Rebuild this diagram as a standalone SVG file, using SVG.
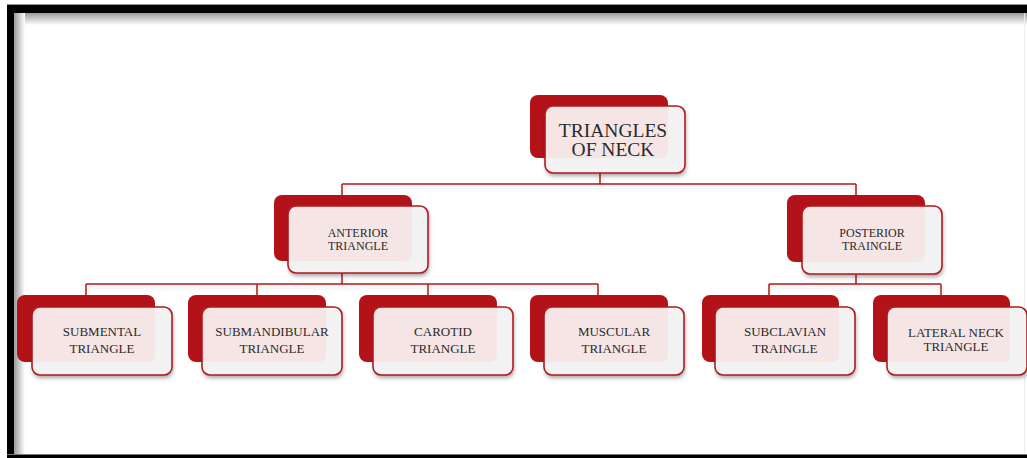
<svg xmlns="http://www.w3.org/2000/svg" width="1027" height="458" viewBox="0 0 1027 458">
<defs>
<style>
.back{fill:#b31318;}
.ff{fill:#f2f2f2;}
.pk{fill:#f6e5e5;}
.fs{fill:none;stroke:#b3181d;stroke-width:1.6;}
.t{font-family:"Liberation Serif","Times New Roman",serif;fill:#2a2a2a;text-anchor:middle;}
.t1{font-size:19.5px;}
.t2{font-size:12px;}
.t3{font-size:13px;}
.conn{fill:none;stroke:#b3181d;stroke-width:1.5;}
</style>
<filter id="sh" x="-10%" y="-10%" width="125%" height="135%">
<feDropShadow dx="1" dy="3" stdDeviation="2" flood-color="#000" flood-opacity="0.35"/>
</filter>
<filter id="csh" x="-5%" y="-50%" width="110%" height="300%">
<feDropShadow dx="0" dy="3" stdDeviation="2" flood-color="#000" flood-opacity="0.12"/>
</filter>
<linearGradient id="gt" x1="0" y1="0" x2="0" y2="1">
<stop offset="0" stop-color="#9a9a9a"/>
<stop offset="1" stop-color="#ffffff"/>
</linearGradient>
<linearGradient id="gl" x1="0" y1="0" x2="1" y2="0">
<stop offset="0" stop-color="#9a9a9a"/>
<stop offset="1" stop-color="#ffffff"/>
</linearGradient>
</defs>
<rect x="0" y="0" width="1027" height="458" fill="#ffffff"/>
<g id="frame">
<rect x="14" y="13" width="1013" height="12" fill="url(#gt)"/>
<rect x="14" y="13" width="11" height="442" fill="url(#gl)"/>
<rect x="7" y="4" width="1020" height="1" fill="#999"/>
<rect x="7" y="5" width="1020" height="8" fill="#000"/>
<rect x="7" y="5" width="7" height="453" fill="#000"/>
<rect x="7" y="454" width="1020" height="1" fill="#777"/>
<rect x="7" y="455" width="1020" height="3" fill="#000"/>
<rect x="1024" y="13" width="1" height="441" fill="#eee"/>
</g>
<g id="connectors" filter="url(#csh)">
<path class="conn" d="M600,173 V184 M342,184 H856 M342,184 V196 M856,184 V196"/>
<path class="conn" d="M342,273 V284 M86,284 H598 M86,284 V296 M257,284 V296 M428,284 V296 M598,284 V296"/>
<path class="conn" d="M856,275 V284 M769,284 H941 M769,284 V296 M941,284 V296"/>
</g>
<g id="root">
<rect class="back" x="530" y="95" width="138" height="63" rx="8"/>
<rect class="ff" x="545" y="106" width="140" height="67" rx="8" filter="url(#sh)"/>
<path class="pk" d="M553,106 H668 V150 Q668,158 660,158 H545 V114 Q545,106 553,106 Z"/>
<rect class="fs" x="545" y="106" width="140" height="67" rx="8"/>
<text class="t t1" x="613" y="137">TRIANGLES</text>
<text class="t t1" x="613" y="156">OF NECK</text>
</g>
<g id="anterior">
<rect class="back" x="274" y="195" width="138" height="66" rx="8"/>
<rect class="ff" x="288" y="206" width="140" height="67" rx="8" filter="url(#sh)"/>
<path class="pk" d="M296,206 H412 V253 Q412,261 404,261 H288 V214 Q288,206 296,206 Z"/>
<rect class="fs" x="288" y="206" width="140" height="67" rx="8"/>
<text class="t t2" x="358" y="237">ANTERIOR</text>
<text class="t t2" x="358" y="250">TRIANGLE</text>
</g>
<g id="posterior">
<rect class="back" x="787" y="195" width="138" height="67" rx="8"/>
<rect class="ff" x="802" y="206" width="140" height="68" rx="8" filter="url(#sh)"/>
<path class="pk" d="M810,206 H925 V254 Q925,262 917,262 H802 V214 Q802,206 810,206 Z"/>
<rect class="fs" x="802" y="206" width="140" height="68" rx="8"/>
<text class="t t2" x="872" y="237">POSTERIOR</text>
<text class="t t2" x="872" y="250">TRAINGLE</text>
</g>
<g id="submental">
<rect class="back" x="17" y="295" width="138" height="67" rx="8"/>
<rect class="ff" x="32" y="307" width="140" height="68" rx="8" filter="url(#sh)"/>
<path class="pk" d="M40,307 H155 V354 Q155,362 147,362 H32 V315 Q32,307 40,307 Z"/>
<rect class="fs" x="32" y="307" width="140" height="68" rx="8"/>
<text class="t t3" x="102" y="336">SUBMENTAL</text>
<text class="t t3" x="102" y="353">TRIANGLE</text>
</g>
<g id="submandibular">
<rect class="back" x="188" y="295" width="138" height="67" rx="8"/>
<rect class="ff" x="202" y="307" width="140" height="68" rx="8" filter="url(#sh)"/>
<path class="pk" d="M210,307 H326 V354 Q326,362 318,362 H202 V315 Q202,307 210,307 Z"/>
<rect class="fs" x="202" y="307" width="140" height="68" rx="8"/>
<text class="t t3" x="272" y="336">SUBMANDIBULAR</text>
<text class="t t3" x="272" y="353">TRIANGLE</text>
</g>
<g id="carotid">
<rect class="back" x="359" y="295" width="138" height="67" rx="8"/>
<rect class="ff" x="373" y="307" width="140" height="68" rx="8" filter="url(#sh)"/>
<path class="pk" d="M381,307 H497 V354 Q497,362 489,362 H373 V315 Q373,307 381,307 Z"/>
<rect class="fs" x="373" y="307" width="140" height="68" rx="8"/>
<text class="t t3" x="443" y="336">CAROTID</text>
<text class="t t3" x="443" y="353">TRIANGLE</text>
</g>
<g id="muscular">
<rect class="back" x="530" y="295" width="138" height="67" rx="8"/>
<rect class="ff" x="544" y="307" width="140" height="68" rx="8" filter="url(#sh)"/>
<path class="pk" d="M552,307 H668 V354 Q668,362 660,362 H544 V315 Q544,307 552,307 Z"/>
<rect class="fs" x="544" y="307" width="140" height="68" rx="8"/>
<text class="t t3" x="614" y="336">MUSCULAR</text>
<text class="t t3" x="614" y="353">TRIANGLE</text>
</g>
<g id="subclavian">
<rect class="back" x="702" y="295" width="137" height="67" rx="8"/>
<rect class="ff" x="715" y="307" width="140" height="68" rx="8" filter="url(#sh)"/>
<path class="pk" d="M723,307 H839 V354 Q839,362 831,362 H715 V315 Q715,307 723,307 Z"/>
<rect class="fs" x="715" y="307" width="140" height="68" rx="8"/>
<text class="t t3" x="785" y="336">SUBCLAVIAN</text>
<text class="t t3" x="785" y="353">TRAINGLE</text>
</g>
<g id="lateral-neck">
<rect class="back" x="873" y="295" width="137" height="67" rx="8"/>
<rect class="ff" x="887" y="307" width="140" height="68" rx="8" filter="url(#sh)"/>
<path class="pk" d="M895,307 H1010 V354 Q1010,362 1002,362 H887 V315 Q887,307 895,307 Z"/>
<rect class="fs" x="887" y="307" width="140" height="68" rx="8"/>
<text class="t t3" x="956" y="337">LATERAL NECK</text>
<text class="t t3" x="956" y="351">TRIANGLE</text>
</g>
</svg>
